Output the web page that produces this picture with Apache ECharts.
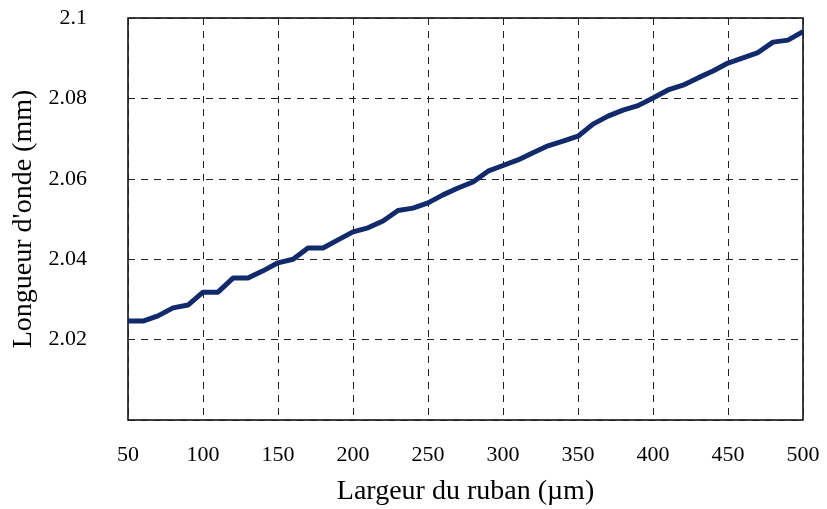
<!DOCTYPE html>
<html lang="fr">
  <head>
    <meta charset="UTF-8" />
    <title>Longueur d'onde</title>
    <script src="https://cdn.jsdelivr.net/npm/echarts@6/dist/echarts.min.js"></script>
  </head>
  <body style="margin: 0">
    <div id="main" style="width: 827px; height: 509px"></div>
    <script type="text/javascript">
      // largeur du ruban (µm) et longueur d'onde (mm)
      const largeurs = [
        50, 60, 70, 80, 90, 100, 110, 120, 130, 140, 150, 160, 170, 180, 190,
        200, 210, 220, 230, 240, 250, 260, 270, 280, 290, 300, 310, 320, 330,
        340, 350, 360, 370, 380, 390, 400, 410, 420, 430, 440, 450, 460, 470,
        480, 490, 500,
      ];
      const longueurs = [
        2.0246, 2.0246, 2.0259, 2.0279, 2.0286, 2.0318, 2.0318, 2.0353, 2.0353,
        2.0371, 2.0391, 2.04, 2.0428, 2.0428, 2.0448, 2.0468, 2.0478, 2.0495,
        2.0521, 2.0527, 2.054, 2.056, 2.0577, 2.0592, 2.0619, 2.0633, 2.0647,
        2.0665, 2.0682, 2.0694, 2.0706, 2.0736, 2.0756, 2.0771, 2.0782, 2.0801,
        2.0821, 2.0833, 2.0851, 2.0868, 2.0888, 2.0901, 2.0914, 2.094, 2.0945,
        2.0966,
      ];

      const font = "Liberation Serif";
      let myChart = echarts.init(document.getElementById("main"));

      let options = {
        backgroundColor: "#fff",
        animation: false,
        grid: {
          left: 128,
          right: 24,
          top: 18,
          bottom: 89,
          outerBoundsMode: "none",
          containLabel: false,
          show: true,
          borderColor: "#000",
          borderWidth: 1.5,
        },
        xAxis: {
          type: "value",
          min: 50,
          max: 500,
          interval: 50,
          name: "Largeur du ruban (µm)",
          nameLocation: "middle",
          nameGap: 58,
          nameTextStyle: { fontFamily: font, fontSize: 28, color: "#000" },
          axisLine: { show: false },
          axisTick: { show: false },
          axisLabel: { margin: 24, fontFamily: font, fontSize: 22, color: "#000" },
          splitLine: { lineStyle: { type: [7, 6], color: "#222", width: 1 } },
        },
        yAxis: {
          type: "value",
          min: 2.0,
          max: 2.1,
          interval: 0.02,
          name: "Longueur d'onde (mm)",
          nameLocation: "middle",
          nameGap: 90,
          nameTextStyle: { fontFamily: font, fontSize: 28, color: "#000" },
          axisLine: { show: false },
          axisTick: { show: false },
          axisLabel: {
            margin: 41,
            fontFamily: font,
            fontSize: 22,
            color: "#000",
            formatter: (v) => (v < 2.001 ? "" : String(+v.toFixed(2))),
          },
          splitLine: { lineStyle: { type: [7, 6], color: "#222", width: 1 } },
        },
        series: [
          {
            type: "line",
            data: largeurs.map((x, i) => [x, longueurs[i]]),
            showSymbol: false,
            lineStyle: { color: "#112a6c", width: 5 },
          },
        ],
      };

      myChart.setOption(options);
    </script>
  </body>
</html>
